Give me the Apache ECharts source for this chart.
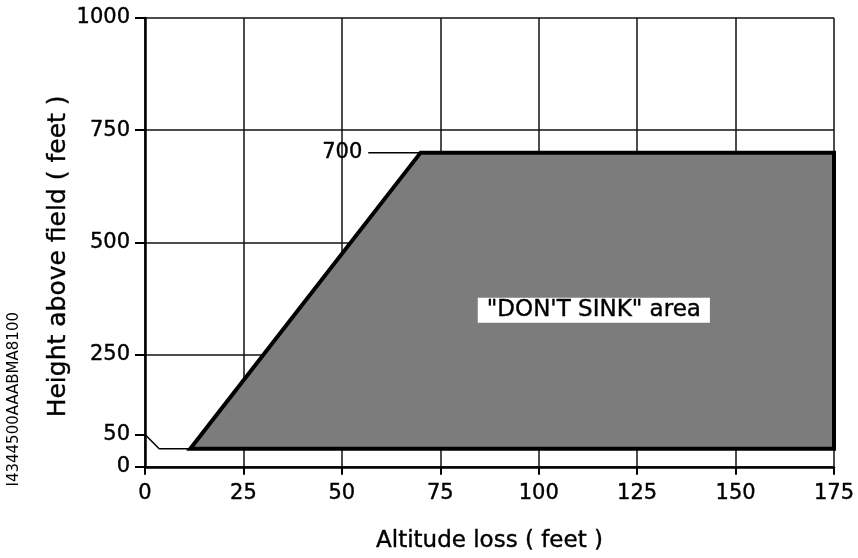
<!DOCTYPE html>
<html>
<head>
<meta charset="utf-8">
<script src="https://cdn.jsdelivr.net/npm/echarts@6/dist/echarts.min.js"></script>
<style>
html,body{margin:0;padding:0;background:#fff;}
#chart{width:858px;height:558px;}
</style>
</head>
<body>
<div id="chart"></div>
<script>
// ---- data ----
const xTicks = [0, 25, 50, 75, 100, 125, 150, 175];
const yTickValues = [0, 72, 250, 500, 750, 1000];
const yTickLabels = ['0', '50', '250', '500', '750', '1000'];

// "DON'T SINK" zone outline (altitude loss, height)
const zoneX = [11.5, 70, 175, 175];
const zoneY = [40, 700, 700, 40];

// lead-in line from the 50 ft tick
const leadX = [0, 3.6, 11.5];
const leadY = [72, 40, 40];

// 700 ft callout leader
const calloutX = [56.7, 70];
const calloutY = [700, 700];
const calloutText = '700';

// zone label
const zoneLabel = '"DON\'T SINK" area';
const zoneLabelPos = [114, 349];

const FONT = 'DejaVu Sans';
const HEAVY = {textBorderColor: '#000', textBorderWidth: 0.4};

const chart = echarts.init(document.getElementById('chart'), null, {renderer: 'canvas'});

const option = {
  animation: false,
  backgroundColor: '#ffffff',
  grid: {left: 145, right: 24, top: 18, bottom: 88, containLabel: false},
  xAxis: {
    type: 'value',
    min: 0, max: 175, interval: 25,
    name: 'Altitude loss ( feet )',
    nameLocation: 'middle',
    nameGap: 63,
    nameTextStyle: Object.assign({fontFamily: FONT, fontSize: 23, color: '#000'}, HEAVY),
    axisLine: {show: true, onZero: false, lineStyle: {color: '#000', width: 2.5}},
    axisTick: {show: true, inside: false, length: 8, lineStyle: {color: '#000', width: 2}},
    axisLabel: Object.assign({show: true, margin: 16, fontFamily: FONT, fontSize: 21, color: '#000',
      formatter: v => String(v)}, HEAVY),
    splitLine: {show: true, lineStyle: {color: '#111', width: 1.5}}
  },
  yAxis: [
    {
      type: 'value',
      min: 0, max: 1000, interval: 250,
      position: 'left',
      name: 'Height above field ( feet )',
      nameLocation: 'middle',
      nameGap: 74,
      nameRotate: 90,
      nameTextStyle: Object.assign({fontFamily: FONT, fontSize: 25, color: '#000', padding: [0, 28, 0, 0]}, HEAVY),
      axisLine: {show: true, onZero: false, lineStyle: {color: '#000', width: 2.5}},
      axisTick: {show: false},
      axisLabel: {show: false},
      splitLine: {show: true, lineStyle: {color: '#111', width: 1.5}}
    },
    {
      type: 'value',
      min: 0, max: 1000,
      position: 'left',
      offset: 0,
      axisLine: {show: false},
      axisTick: {show: true, length: 10, customValues: yTickValues, lineStyle: {color: '#000', width: 2}},
      axisLabel: Object.assign({show: true, margin: 15, customValues: yTickValues, fontFamily: FONT, fontSize: 21, color: '#000',
        formatter: v => yTickLabels[yTickValues.indexOf(v)]}, HEAVY),
      splitLine: {show: false}
    }
  ],
  graphic: [
    {
      type: 'text',
      left: 7,
      top: 312,
      rotation: Math.PI / 2,
      style: {text: 'I4344500AAABMA8100', font: '15px "DejaVu Sans"', fill: '#000'}
    }
  ],
  series: [
    {
      type: 'custom',
      xAxisIndex: 0, yAxisIndex: 0,
      clip: false,
      data: [[0, 0]],
      renderItem: function (params, api) {
        const pts = zoneX.map((x, i) => api.coord([x, zoneY[i]]));
        return {
          type: 'polygon',
          shape: {points: pts},
          style: {fill: '#7c7c7c', stroke: '#000', lineWidth: 4, lineJoin: 'miter'}
        };
      },
      z: 3
    },
    {
      type: 'line',
      xAxisIndex: 0, yAxisIndex: 0,
      data: leadX.map((x, i) => [x, leadY[i]]),
      symbol: 'none',
      lineStyle: {color: '#000', width: 1.5},
      z: 4
    },
    {
      type: 'line',
      xAxisIndex: 0, yAxisIndex: 0,
      data: calloutX.map((x, i) => [x, calloutY[i]]),
      symbol: 'none',
      lineStyle: {color: '#000', width: 1.5},
      z: 4
    },
    {
      type: 'scatter',
      xAxisIndex: 0, yAxisIndex: 0,
      data: [[calloutX[0], calloutY[0]]],
      symbolSize: 0,
      itemStyle: {opacity: 1},
      label: Object.assign({
        show: true, position: 'left', distance: 6, formatter: calloutText,
        fontFamily: FONT, fontSize: 21, color: '#000'
      }, HEAVY),
      z: 5
    },
    {
      type: 'scatter',
      xAxisIndex: 0, yAxisIndex: 0,
      data: [zoneLabelPos],
      symbolSize: 0,
      itemStyle: {opacity: 1},
      label: Object.assign({
        show: true, position: 'inside', formatter: zoneLabel,
        fontFamily: FONT, fontSize: 23, color: '#000',
        backgroundColor: '#fff', padding: [1, 9, 0, 9], lineHeight: 24
      }, HEAVY),
      z: 5
    }
  ]
};
chart.setOption(option);
</script>
</body>
</html>
